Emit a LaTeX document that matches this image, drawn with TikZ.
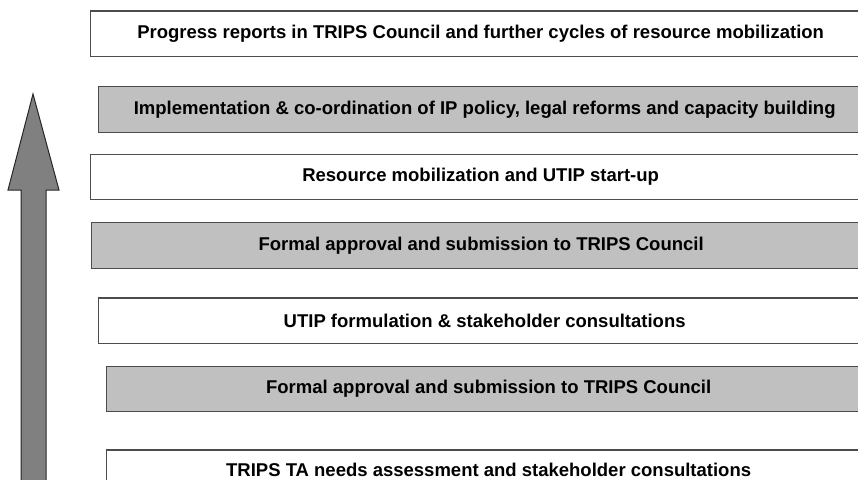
\documentclass[tikz,border=0pt]{standalone}
\usepackage{fontspec}
\setmainfont{Liberation Sans}
\definecolor{stagegray}{HTML}{C0C0C0}
\definecolor{arrowgray}{HTML}{808080}
\begin{document}
\begin{tikzpicture}[
    x=1pt, y=-1pt,
    stage/.style={rectangle, draw=black!70, line width=1.3pt, fill=white, anchor=west, minimum height=45.5, font=\bfseries\fontsize{18.5}{21}\selectfont, inner sep=0pt},
    grey/.style={stage, fill=stagegray}
]
    \useasboundingbox (0,0) rectangle (858,479);
    \clip (0,0) rectangle (858,479);

    % Big upward arrow on the left
    \draw[fill=arrowgray, draw=black!85, line width=1pt]
        (33,94) -- (59,190) -- (46,190) -- (46,495) -- (21,495) -- (21,190) -- (8,190) -- cycle;

    % Stages, from top to bottom
    \node[stage, minimum width=780] (progress) at (90, 33.8) {Progress reports in TRIPS Council and further cycles of resource mobilization};
    \node[grey, minimum width=772] (implement) at (98, 109.4) {Implementation \& co-ordination of IP policy, legal reforms and capacity building};
    \node[stage, minimum width=780] (resource) at (90, 177) {Resource mobilization and UTIP start-up};
    \node[grey, minimum width=779] (approvaltop) at (91, 245.5) {Formal approval and submission to TRIPS Council};
    \node[stage, minimum width=772] (formulation) at (98, 320.8) {UTIP formulation \& stakeholder consultations};
    \node[grey, minimum width=764] (approvalbottom) at (106, 389) {Formal approval and submission to TRIPS Council};
    \node[stage, minimum width=764, minimum height=40.5, anchor=north west] (needs) at (106, 449.3) {TRIPS TA needs assessment and stakeholder consultations};
\end{tikzpicture}
\end{document}
